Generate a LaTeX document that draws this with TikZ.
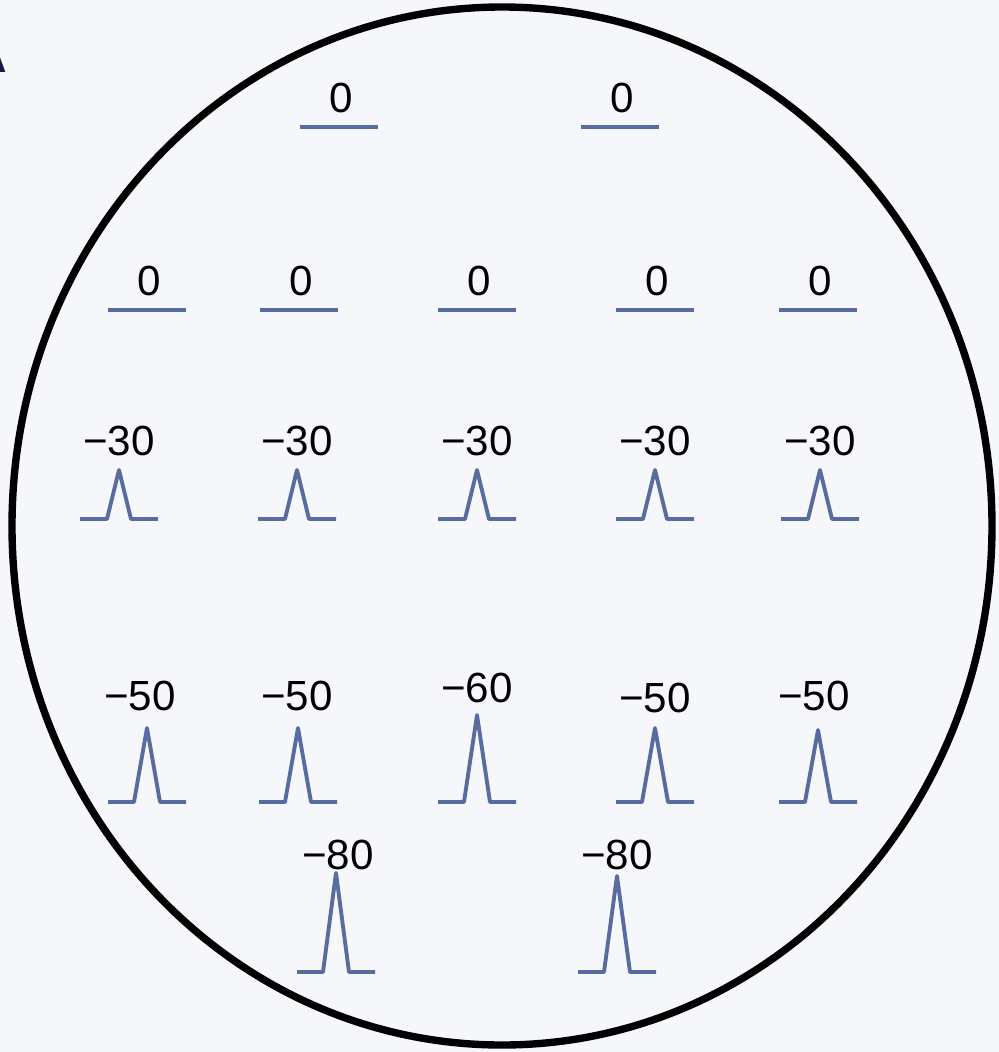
\documentclass[tikz,border=0pt]{standalone}
\usepackage{fontspec}
\setmainfont{Liberation Sans}
\definecolor{bgc}{RGB}{246,247,251}
\definecolor{trc}{RGB}{88,108,160}
\definecolor{navy}{RGB}{20,25,70}
\begin{document}
\begin{tikzpicture}[x=0.02cm,y=-0.02cm,
  trace/.style={draw=trc,line width=2.2pt,line join=round},
  lab/.style={font=\fontsize{24}{26}\selectfont,inner sep=0pt}]
\fill[bgc] (0,0) rectangle (999,1052);
\useasboundingbox (0,0) rectangle (999,1052);
\node[anchor=east,text=navy,font=\fontsize{60}{60}\selectfont\bfseries,inner sep=0pt] (A) at (9,36) {A};
\draw[line width=4.2pt] (502,526) ellipse [x radius=490,y radius=519];
% flat traces: x center, y baseline
\foreach \n/\cx/\cy in {f1/339/127,f2/620/127,f3/147/310,f4/299/310,f5/477/310,f6/655/310,f7/818/310}{
  \draw[trace] (\cx-39,\cy) -- (\cx+39,\cy);
  \node[lab,anchor=base] (\n) at (\cx+2,\cy-15) {0};
}
% peaks: name/center x/baseline/peak y/label/label y/half width/label dx
\foreach \n/\cx/\cy/\py/\t/\ly/\hw/\dx in {
  a1/119/519/470/30/455/12/0, a2/297/519/470/30/455/12/0, a3/477/519/470/30/455/12/0, a4/655/519/470/30/455/12/0, a5/820/519/470/30/455/12/0,
  b1/147/802/728/50/710/13/-7, b2/298/802/728/50/710/13/-1, b3/477/802/715/60/702/13/0, b4/655/802/728/50/712/13/0, b5/818/802/730/50/710/13/-4,
  c1/336/972/873/80/869/13/2, c2/617/972/876/80/869/13/0}{
  \draw[trace] (\cx-39,\cy) -- (\cx-\hw,\cy) -- (\cx,\py) -- (\cx+\hw,\cy) -- (\cx+39,\cy);
  \node[lab,anchor=base] (\n) at (\cx+\dx,\ly) {−\t};
}
\end{tikzpicture}
\end{document}
